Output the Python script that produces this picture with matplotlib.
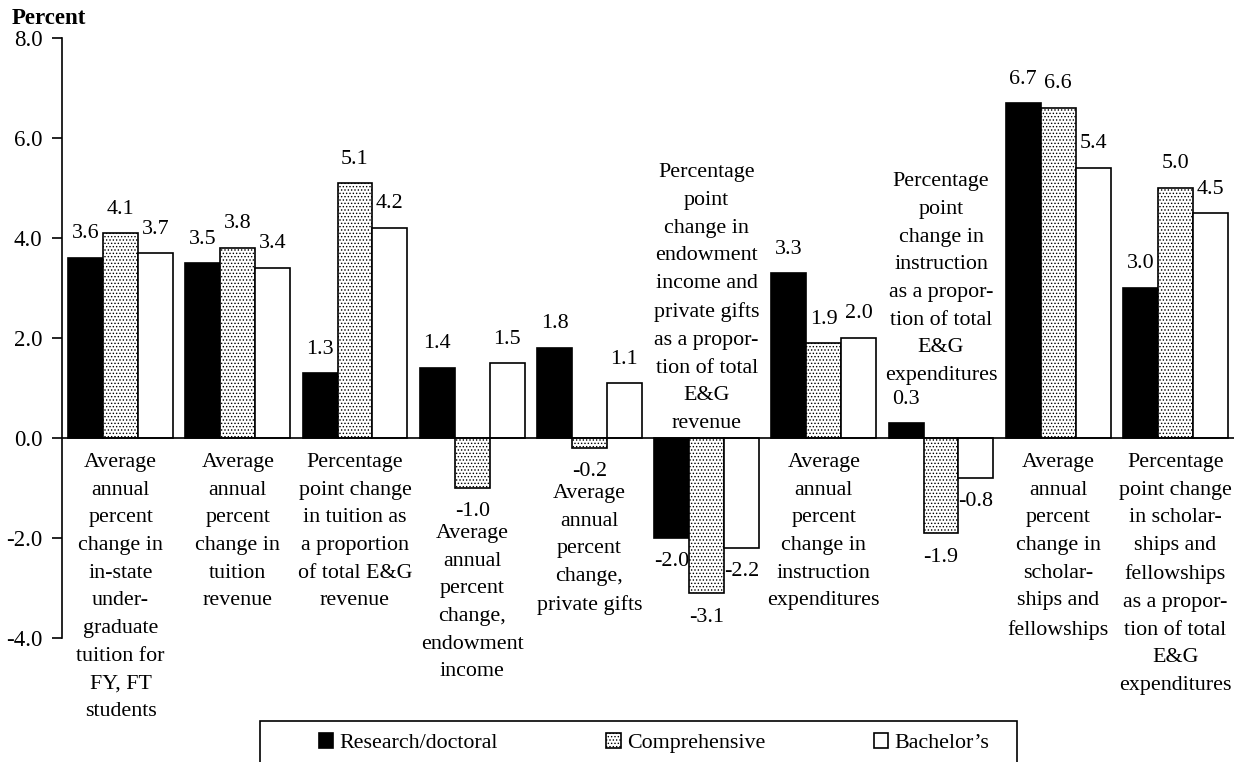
import matplotlib.pyplot as plt
import matplotlib.patches as patches
import numpy as np

plt.rcParams['font.family'] = 'Liberation Serif'
plt.rcParams['hatch.linewidth'] = 0.6

# Data
categories = [
    "Average\nannual\npercent\nchange in\nin-state\nunder-\ngraduate\ntuition for\nFY, FT\nstudents",
    "Average\nannual\npercent\nchange in\ntuition\nrevenue",
    "Percentage\npoint change\nin tuition as\na proportion\nof total E&G\nrevenue",
    "Average\nannual\npercent\nchange,\nendowment\nincome",
    "Average\nannual\npercent\nchange,\nprivate gifts",
    "Percentage\npoint\nchange in\nendowment\nincome and\nprivate gifts\nas a propor-\ntion of total\nE&G\nrevenue",
    "Average\nannual\npercent\nchange in\ninstruction\nexpenditures",
    "Percentage\npoint\nchange in\ninstruction\nas a propor-\ntion of total\nE&G\nexpenditures",
    "Average\nannual\npercent\nchange in\nscholar-\nships and\nfellowships",
    "Percentage\npoint change\nin scholar-\nships and\nfellowships\nas a propor-\ntion of total\nE&G\nexpenditures",
]
series_names = ["Research/doctoral", "Comprehensive", "Bachelor\u2019s"]
research = [3.6, 3.5, 1.3, 1.4, 1.8, -2.0, 3.3, 0.3, 6.7, 3.0]
comprehensive = [4.1, 3.8, 5.1, -1.0, -0.2, -3.1, 1.9, -1.9, 6.6, 5.0]
bachelors = [3.7, 3.4, 4.2, 1.5, 1.1, -2.2, 2.0, -0.8, 5.4, 4.5]

# where each category label sits (y in data units, vertical alignment)
label_y = [-0.3, -0.3, -0.3, -1.72, -0.92, 0.1, -0.3, 1.06, -0.3, -0.3]
label_va = ['top', 'top', 'top', 'top', 'top', 'bottom', 'top', 'bottom', 'top', 'top']

FS = 15.8

fig = plt.figure(figsize=(12.38, 7.62), dpi=100)
ax = fig.add_axes([62 / 1238, 124 / 762, 1172 / 1238, 600 / 762])

x = np.arange(len(categories))
w = 0.298
b1 = ax.bar(x - w, research, w, color='black', edgecolor='black', linewidth=1.2)
b2 = ax.bar(x, comprehensive, w, color='white', edgecolor='black', hatch='.....', linewidth=1.2)
b3 = ax.bar(x + w, bachelors, w, color='white', edgecolor='black', linewidth=1.2)

# value labels
for bars, vals in [(b1, research), (b2, comprehensive), (b3, bachelors)]:
    for rect, v in zip(bars, vals):
        off = 24 if v >= 0 else -24
        ax.annotate(f"{v:.1f}", (rect.get_x() + rect.get_width() / 2, v),
                    xytext=(0, off * 0.72), textcoords='offset points',
                    ha='center', va='center', fontsize=FS)

# category labels
for i, (txt, yy, va) in enumerate(zip(categories, label_y, label_va)):
    ax.text(x[i], yy, txt, ha='center', va=va, fontsize=FS, linespacing=1.62)

ax.axhline(0, color='black', linewidth=1.2)
ax.set_xlim(-0.5, 9.5)
ax.set_ylim(-4, 8)
ax.set_yticks(np.arange(-4, 8.1, 2))
ax.set_yticklabels([f"{t:.1f}" for t in np.arange(-4, 8.1, 2)])
ax.set_xticks([])
for s in ['top', 'right', 'bottom']:
    ax.spines[s].set_visible(False)
ax.spines['left'].set_linewidth(1.2)
ax.tick_params(axis='y', direction='out', length=7, width=1.2, pad=7, labelsize=16.5)

fig.text(12 / 1238, 1 - 18 / 762, 'Percent', fontsize=16.5, weight='bold', ha='left', va='center')

# legend with open-bottom box
fig.legend([b1, b2, b3], series_names, loc='center left',
           bbox_to_anchor=(308 / 1238, 1 - 743 / 762), ncol=3, frameon=False,
           borderpad=0, handlelength=0.65, handleheight=0.65, handletextpad=0.28,
           columnspacing=4.95, fontsize=FS)
fig.patches.append(patches.Rectangle((260 / 1238, -0.05), 757 / 1238, 41 / 762 + 0.05,
                                     transform=fig.transFigure, fill=False,
                                     edgecolor='black', linewidth=1.2))

plt.savefig('out.png', dpi=100)
